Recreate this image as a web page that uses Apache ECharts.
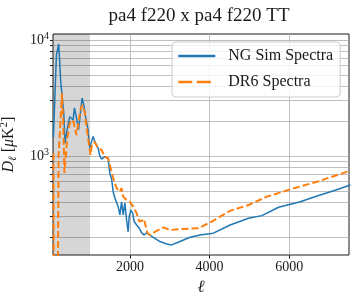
<!DOCTYPE html>
<html><head><meta charset="utf-8">
<script src="https://cdn.jsdelivr.net/npm/echarts@6/dist/echarts.min.js"></script>
<style>html,body{margin:0;padding:0;background:#fff}#c{width:356px;height:300px}</style>
</head><body><div id="c"></div>
<script>
// ---- data ----
const ngEll = [80,156,214,264,307,340,372,423,491,541,574,609,659,710,760,800,843,893,951,994,1037,1077,1120,1162,1203,1245,1288,1328,1371,1414,1454,1497,1540,1580,1623,1666,1706,1749,1791,1832,1874,1917,1957,1983,2025,2068,2108,2169,2234,2295,2360,2420,2461,2587,2755,2924,3049,3258,3510,3761,4096,4516,4977,5314,5732,6026,6277,6698,7115,7535];
const ngVal = [1460,7430,9240,4380,4380,2350,1290,1680,2180,2260,2040,2600,2130,1680,2350,3160,2760,2130,1680,1170,1330,1470,1330,1240,1165,1000,940,925,986,957,957,700,640,492,434,418,366,310,403,310,394,281,222,300,342,323,272,254,239,217,208,217,217,199,183,174,171,183,199,208,216,254,290,306,361,384,403,452,502,562];
const dr6Ell = [80,125,175,210,295,327,357,423,491,574,659,710,760,810,868,911,976,1011,1052,1120,1203,1288,1371,1454,1497,1580,1666,1749,1791,1832,1917,2000,2083,2169,2234,2295,2352,2440,2503,2629,2838,3007,3341,3719,4056,4516,4977,5440,6026,6698,7535];
const dr6Val = [1050,0.01,0.01,1000,3490,1890,713,1374,1923,2042,1517,1923,2494,2755,2349,1778,1244,1021,1294,1315,1171,1128,980,957,836,645,529,492,529,446,418,403,366,321,272,276,286,217,208,222,242,230,235,238,272,337,378,446,516,600,747];
const xTickValues = [2000, 4000, 6000];
const yLabelValues = [1000, 10000];
const yGridValues = [200,300,400,500,600,700,800,900,1000,2000,3000,4000,5000,6000,7000,8000,9000,10000];
const shadeRange = [70, 1000];
const xRange = [70, 7500];
const yRange = [140, 11270];

const FONT = "'Liberation Serif', 'DejaVu Serif', serif";
const INK = '#1a1a1a';
const zip = (a, b) => a.map((v, i) => [v, b[i]]);

const chart = echarts.init(document.getElementById('c'), null, {renderer: 'canvas'});
chart.setOption({
  animation: false,
  backgroundColor: '#ffffff',
  title: {
    text: 'pa4 f220 x pa4 f220 TT',
    left: 194, top: 2, textAlign: 'center',
    textStyle: {fontFamily: FONT, fontSize: 19, fontWeight: 'normal', color: INK}
  },
  grid: {left: 53, right: 7, top: 34, bottom: 45, show: true, borderColor: INK, borderWidth: 1,
         backgroundColor: 'transparent', containLabel: false, outerBoundsMode: 'none'},
  legend: {
    orient: 'vertical', left: 172, top: 42,
    itemWidth: 37, itemHeight: 14, itemGap: 10,
    padding: [6, 7, 7, 5],
    backgroundColor: 'rgba(255,255,255,0.8)', borderColor: '#cccccc', borderWidth: 1, borderRadius: 4,
    itemStyle: {opacity: 0},
    textStyle: {fontFamily: FONT, fontSize: 16, color: INK, lineHeight: 14, padding: [0, 0, 0, 8]},
    data: [
      {name: 'NG Sim Spectra', lineStyle: {width: 2.6}},
      {name: 'DR6 Spectra', lineStyle: {width: 2.6, type: [14, 4.5]}}
    ]
  },
  xAxis: {
    type: 'value', min: xRange[0], max: xRange[1],
    axisLine: {show: false},
    axisTick: {show: true, customValues: xTickValues, length: 3.5, lineStyle: {color: INK}},
    axisLabel: {customValues: xTickValues, margin: 5, fontFamily: FONT, fontSize: 14, color: INK,
                formatter: v => String(v)},
    splitLine: {show: true, lineStyle: {color: '#b0b0b0', width: 0.8}},
    name: 'ℓ', nameLocation: 'middle', nameGap: 22,
    nameTextStyle: {fontFamily: FONT, fontSize: 17, fontStyle: 'italic', color: INK}
  },
  yAxis: {
    type: 'log', logBase: 10, min: yRange[0], max: yRange[1],
    axisLine: {show: false},
    axisTick: {show: true, customValues: yGridValues, length: 3, lineStyle: {color: INK}},
    axisLabel: {
      customValues: yLabelValues, margin: 4,
      formatter: v => '{b|10}{s|' + Math.round(Math.log10(v)) + '}',
      rich: {
        b: {fontFamily: FONT, fontSize: 14, color: INK, lineHeight: 18},
        s: {fontFamily: FONT, fontSize: 10, color: INK, lineHeight: 10, verticalAlign: 'top'}
      }
    },
    splitLine: {show: true, lineStyle: {color: '#b0b0b0', width: 0.8}},
    minorTick: {show: false}, minorSplitLine: {show: false},
    name: '{i|D}{sub|ℓ}{r| [}{i|μ}{r|K}{sup|2}{r|]}',
    nameLocation: 'middle', nameRotate: 90, nameGap: 28,
    nameTextStyle: {
      rich: {
        i: {fontFamily: FONT, fontSize: 16, fontStyle: 'italic', color: INK, lineHeight: 20},
        r: {fontFamily: FONT, fontSize: 16, color: INK, lineHeight: 20},
        sub: {fontFamily: FONT, fontSize: 11, fontStyle: 'italic', color: INK, lineHeight: 11, verticalAlign: 'bottom'},
        sup: {fontFamily: FONT, fontSize: 11, color: INK, lineHeight: 11, verticalAlign: 'top'}
      }
    }
  },
  series: [
    {
      type: 'line', name: 'shade', data: [], z: 1, silent: true,
      markArea: {silent: true, itemStyle: {color: 'rgba(0,0,0,0.16)'}, data: [[{xAxis: shadeRange[0]}, {xAxis: shadeRange[1]}]]}
    },
    {
      type: 'line', name: 'NG Sim Spectra', data: zip(ngEll, ngVal), z: 3,
      symbol: 'none', showSymbol: false, clip: true,
      lineStyle: {color: '#1f77b4', width: 1.5}, itemStyle: {color: '#1f77b4'}
    },
    {
      type: 'line', name: 'DR6 Spectra', data: zip(dr6Ell, dr6Val), z: 4,
      symbol: 'none', showSymbol: false, clip: true,
      lineStyle: {color: '#ff7f0e', width: 2, type: [7, 3]}, itemStyle: {color: '#ff7f0e'}
    }
  ]
});
</script></body></html>
